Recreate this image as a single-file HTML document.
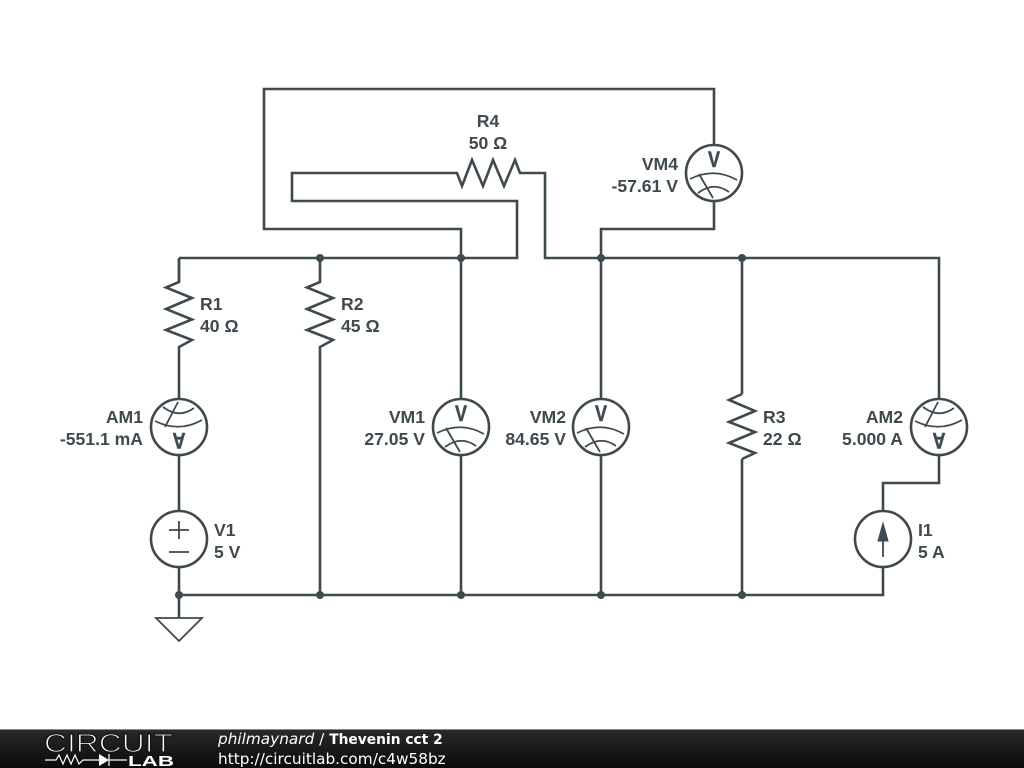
<!DOCTYPE html>
<html>
<head>
<meta charset="utf-8">
<style>
html,body{margin:0;padding:0;background:#fff;width:1024px;height:768px;overflow:hidden}
svg{display:block}
.w{fill:none;stroke:#3f4a4f;stroke-width:2.600;stroke-linejoin:miter;stroke-linecap:butt}
.t{fill:none;stroke:#3f4a4f;stroke-width:1.800}
.l{font-family:"Liberation Sans",sans-serif;font-weight:bold;font-size:17.600px;fill:#3f4a4f}
.e{text-anchor:end}
.m{text-anchor:middle}
.g{font-family:"Liberation Sans",sans-serif;font-weight:bold;font-size:22px;fill:#3f4a4f;stroke:#3f4a4f;stroke-width:0.500;text-anchor:middle}
.f{font-family:"DejaVu Sans",sans-serif;font-size:15.300px;fill:#fff}
</style>
</head>
<body>
<svg width="1024" height="768" viewBox="0 0 1024 768" xmlns="http://www.w3.org/2000/svg">
<defs>
<linearGradient id="bar" x1="0" y1="0" x2="0" y2="1">
<stop offset="0" stop-color="#2a2a2a"/>
<stop offset="1" stop-color="#0a0a0a"/>
</linearGradient>
<g id="rv"><path class="w" d="M0 0V24L-13 29.500 13 40 -13 51 13 61.500 -13 72 13 82 0 89"/></g>
<g id="vm">
<circle class="w" r="28" cx="0" cy="0" fill="#fff"/>
<path class="t" d="M-24 6Q0 -6 23 7M-16 20Q0 8 15 19M-15 1L-1 25"/>
<text class="g" transform="scale(0.82,1)" x="0" y="-6">V</text>
</g>
<g id="am">
<circle class="w" r="28" cx="0" cy="0"/>
<path class="t" d="M-24 -6Q0 6 23 -7M-16 -20Q0 -8 15 -19M-1 -25L-14 0"/>
<text class="g" transform="scale(0.82,-1)" x="0" y="-6">A</text>
</g>
</defs>

<!-- wires -->
<path class="w" d="M179 258H517V201H292V173H457L462 186 472 160 483 186 493 160 504 186 515 160 520 173H545V258H939V399"/>
<path class="w" d="M939 455V483H883V511M883 567V595H179V618"/>
<path class="w" d="M461 258V229H264V89H714V145M714 201V229H601V258"/>
<path class="w" d="M179 258V282M179 346V399M179 455V511M179 567V595"/>
<path class="w" d="M461 258V399M461 455V595M601 258V399M601 455V595"/>
<path class="w" d="M320 346V595"/>
<path class="w" d="M742 258V394M742 459V595"/>

<!-- resistors -->
<use href="#rv" x="179" y="258"/>
<use href="#rv" x="320" y="258"/>
<path class="w" d="M742 394L729 400 755 411 729 422 755 432 729 443 755 453 742 459"/>

<!-- meters -->
<use href="#am" x="179" y="427"/>
<use href="#vm" x="461" y="427"/>
<use href="#vm" x="601" y="427"/>
<use href="#am" x="939" y="427"/>
<use href="#vm" x="714" y="173"/>

<!-- V1 -->
<circle class="w" cx="179" cy="539" r="28"/>
<path class="t" d="M179 521V539M169 530H189"/>
<path class="t" d="M169 552H189"/>

<!-- I1 -->
<circle class="w" cx="883" cy="539" r="28"/>
<path class="t" d="M883 557V530"/>
<path d="M883 523L888 541H878Z" fill="#3f4a4f" stroke="#3f4a4f"/>

<!-- ground -->
<path class="t" d="M156 618H202L179 641Z"/>

<!-- junctions -->
<g fill="#3f4a4f">
<circle cx="320" cy="258" r="4"/><circle cx="461" cy="258" r="4"/><circle cx="601" cy="258" r="4"/><circle cx="742" cy="258" r="4"/>
<circle cx="179" cy="595" r="4"/><circle cx="320" cy="595" r="4"/><circle cx="461" cy="595" r="4"/><circle cx="601" cy="595" r="4"/><circle cx="742" cy="595" r="4"/>
</g>

<!-- labels -->
<text class="l" x="200" y="310">R1</text><text class="l" x="200" y="332">40 Ω</text>
<text class="l" x="341" y="310">R2</text><text class="l" x="341" y="332">45 Ω</text>
<text class="l" x="763" y="423">R3</text><text class="l" x="763" y="445">22 Ω</text>
<text class="l m" x="488" y="127">R4</text><text class="l m" x="488" y="149">50 Ω</text>
<text class="l e" x="143" y="423">AM1</text><text class="l e" x="143" y="445">-551.1 mA</text>
<text class="l e" x="425" y="423">VM1</text><text class="l e" x="425" y="445">27.05 V</text>
<text class="l e" x="566" y="423">VM2</text><text class="l e" x="566" y="445">84.65 V</text>
<text class="l e" x="678" y="170">VM4</text><text class="l e" x="678" y="192">-57.61 V</text>
<text class="l e" x="903" y="423">AM2</text><text class="l e" x="903" y="445">5.000 A</text>
<text class="l" x="214" y="536">V1</text><text class="l" x="214" y="558">5 V</text>
<text class="l" x="918" y="536">I1</text><text class="l" x="918" y="558">5 A</text>

<!-- footer -->
<rect x="0" y="729" width="1024" height="39" fill="url(#bar)"/>
<rect x="0" y="729" width="1024" height="1" fill="#8a8a8a"/>
<text x="44" y="752" font-family="'Liberation Sans',sans-serif" font-size="26" fill="#fff" stroke="#151515" stroke-width="1.200" textLength="129" lengthAdjust="spacingAndGlyphs">CIRCUIT</text>
<path d="M45 760H56L59 755 63 764 67 755 71 764 75 755 79 764 83 760H100M109 760H127M109 754V766" fill="none" stroke="#fff" stroke-width="1.200"/>
<path d="M99 754L109 760 99 766Z" fill="#fff"/>
<text x="128" y="766" font-family="'Liberation Sans',sans-serif" font-weight="bold" font-size="15" fill="#fff" textLength="46" lengthAdjust="spacingAndGlyphs">LAB</text>
<text class="f" x="218" y="744"><tspan font-style="italic">philmaynard</tspan> / <tspan font-weight="bold" font-size="13.800">Thevenin cct 2</tspan></text>
<text class="f" x="218" y="764">http://circuitlab.com/c4w58bz</text>
</svg>
</body>
</html>
